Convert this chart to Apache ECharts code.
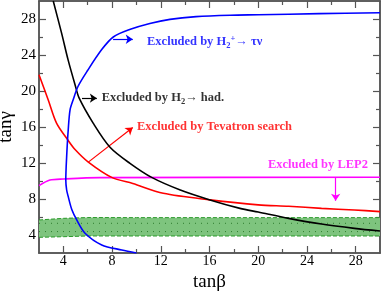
<!DOCTYPE html>
<html>
<head>
<meta charset="utf-8">
<script src="https://cdn.jsdelivr.net/npm/echarts@6/dist/echarts.min.js"></script>
<style>html,body{margin:0;padding:0;background:#fff}#c{width:382px;height:291px}</style>
</head>
<body>
<div id="c"></div>
<script>
// ---- data (tanβ, tanγ) ----
const xMajor = [4, 8, 12, 16, 20, 24, 28];
const xMinor = [6, 10, 14, 18, 22, 26];
const yMajor = [4, 8, 12, 16, 20, 24, 28];
const yMinor = [6, 10, 14, 18, 22, 26];

const blueCurve = [[30,28.7],[25,28.6],[20,28.47],[17.7,28.42],[14.9,28.26],[12.75,27.96],[11.1,27.5],[9.5,26.85],[8.1,26.0],[7.15,24.6],[6.0,22.3],[5.2,20.5],[4.8,19.0],[4.55,17.9],[4.4,15.7],[4.27,12.7],[4.2,10.1],[4.27,9.0],[4.4,8.26],[4.7,6.8],[5.1,5.67],[5.78,4.2],[7.15,2.9],[8.8,2.33],[10.0,2.0]];
const blackCurve = [[3.17,30],[3.86,26.4],[4.4,23.4],[4.96,20.7],[5.3,19.2],[6.46,16.4],[7.83,13.75],[9.47,11.96],[11.25,10.4],[13.6,9.0],[16.04,7.9],[18.5,6.96],[20,6.55],[22.5,5.85],[25.2,5.22],[27.9,4.74],[30,4.44]];
const redCurve = [[2,21.8],[2.76,19.0],[3.45,16.4],[4.4,14.5],[4.96,13.5],[6.05,12.1],[7.97,10.4],[9.7,9.72],[12.2,8.63],[16.04,7.9],[20,7.35],[22.5,7.2],[25.2,6.96],[27.9,6.78],[30,6.6]];
const magentaCurve = [[2,9.48],[2.9,10.1],[4.0,10.22],[7.0,10.37],[30,10.42]];

const bandX  = [2, 4, 6, 10, 20, 30];
const bandLo = [3.74, 3.81, 3.89, 3.89, 3.89, 3.89];
const bandHi = [5.67, 5.85, 5.94, 5.93, 5.93, 5.93];
const bandDots = [4.38, 5.3];

// annotations (data coordinates)
const labelTexts = [
  '{t|Excluded by H}{s|2}{p|+}{t|→ τν}',
  '{t|Excluded by H}{s|2}{t|→ had.}',
  '{t|Excluded by Tevatron search}',
  '{t|Excluded by LEP2}'
];
const labelPos = [[10.87,25.45],[7.15,19.2],[10.05,16.0],[20.8,11.78]];
const labelColors = ['#0000ff','#000000','#ff0000','#ff00ff'];
const arrows = [
  [[8.08,25.75],[9.7,25.75]],
  [[5.53,19.2],[6.75,19.2]],
  [[6.05,12.1],[9.7,15.95]],
  [[26.36,10.42],[26.36,7.8]]
];

const serif = 'Liberation Serif, Times New Roman, serif';
const axisColor = '#555';

function xAx(pos, vals, len, labels) {
  return {
    type: 'value', min: 2, max: 30, position: pos,
    axisLine: { show: true, onZero: false, lineStyle: { color: axisColor, width: 1.5 } },
    axisTick: { show: true, inside: true, length: len, customValues: vals, lineStyle: { color: axisColor, width: 1.2 } },
    axisLabel: labels ? { show: true, customValues: xMajor, fontFamily: serif, fontSize: 14, color: '#000', margin: 1 } : { show: false },
    splitLine: { show: false },
    name: labels ? 'tanβ' : '', nameLocation: 'middle', nameGap: 17,
    nameTextStyle: { fontFamily: serif, fontSize: 19, color: '#000' }
  };
}
function yAx(pos, vals, len, labels) {
  return {
    type: 'value', min: 2, max: 30, position: pos,
    axisLine: { show: true, onZero: false, lineStyle: { color: axisColor, width: 1.5 } },
    axisTick: { show: true, inside: true, length: len, customValues: vals, lineStyle: { color: axisColor, width: 1.2 } },
    axisLabel: labels ? { show: true, customValues: yMajor, fontFamily: serif, fontSize: 15, color: '#000', margin: 3 } : { show: false },
    splitLine: { show: false },
    name: labels ? 'tanγ' : '', nameLocation: 'middle', nameGap: 23, nameMoveOverlap: false,
    nameTextStyle: { fontFamily: serif, fontSize: 19, color: '#000' }
  };
}

function curve(data, color, arrow) {
  return {
    type: 'line', data: data, showSymbol: false, smooth: 0.3, clip: true,
    lineStyle: { color: color, width: 1.6 }, z: 5, silent: true,
    markLine: {
      silent: true, symbol: ['none', 'arrow'], symbolSize: 7,
      label: { show: false },
      lineStyle: { color: color, width: 1.2, type: 'solid' },
      data: [[{ coord: arrow[0] }, { coord: arrow[1] }]]
    }
  };
}

const chart = echarts.init(document.getElementById('c'), null, { renderer: 'canvas' });
const option = {
  animation: false,
  backgroundColor: '#fff',
  grid: { left: 39, right: 2, top: 1, bottom: 38, containLabel: false, outerBoundsMode: 'none' },
  xAxis: [xAx('bottom', xMajor, 7, true), xAx('bottom', xMinor, 4, false), xAx('top', xMajor, 7, false), xAx('top', xMinor, 4, false)],
  yAxis: [yAx('left', yMajor, 7, true), yAx('left', yMinor, 4, false), yAx('right', yMajor, 7, false), yAx('right', yMinor, 4, false)],
  series: [
    {
      type: 'custom', silent: true, z: 1,
      data: bandX.map((x, i) => [x, bandLo[i], bandHi[i]]),
      renderItem: function (params, api) {
        if (params.dataIndex !== 0) return;
        const pts = [];
        for (let i = 0; i < bandX.length; i++) pts.push(api.coord([bandX[i], bandHi[i]]));
        for (let i = bandX.length - 1; i >= 0; i--) pts.push(api.coord([bandX[i], bandLo[i]]));
        return { type: 'polygon', shape: { points: pts }, style: { fill: '#7ec47e' } };
      }
    },
    { type: 'line', data: bandX.map((x, i) => [x, bandLo[i]]), showSymbol: false, z: 2, silent: true, lineStyle: { color: '#2a9a2a', width: 1, type: [4, 2] } },
    { type: 'line', data: bandX.map((x, i) => [x, bandHi[i]]), showSymbol: false, z: 2, silent: true, lineStyle: { color: '#2a9a2a', width: 1, type: [4, 2] } },
    { type: 'line', data: [[2, bandDots[0]], [30, bandDots[0]]], showSymbol: false, z: 2, silent: true, lineStyle: { color: '#2f7d2f', width: 1, type: [1, 5] } },
    { type: 'line', data: [[2, bandDots[1]], [30, bandDots[1]]], showSymbol: false, z: 2, silent: true, lineStyle: { color: '#2f7d2f', width: 1, type: [1, 5] } },
    curve(magentaCurve, '#ff00ff', arrows[3]),
    curve(redCurve, '#ff0000', arrows[2]),
    curve(blackCurve, '#000000', arrows[1]),
    curve(blueCurve, '#0000ff', arrows[0]),
    {
      type: 'scatter', symbolSize: 0, silent: true, z: 10,
      data: labelPos.map((p, i) => ({
        value: p,
        label: {
          show: true, position: 'right', distance: 0,
          formatter: labelTexts[i],
          rich: {
            t: { fontFamily: serif, fontWeight: 'bold', fontSize: 12.5, color: labelColors[i], lineHeight: 16, verticalAlign: 'middle' },
            s: { fontFamily: serif, fontWeight: 'bold', fontSize: 8.5, color: labelColors[i], lineHeight: 9, verticalAlign: 'bottom' },
            p: { fontFamily: serif, fontWeight: 'bold', fontSize: 8.5, color: labelColors[i], lineHeight: 9, verticalAlign: 'top' }
          }
        }
      }))
    }
  ]
};
chart.setOption(option);
</script>
</body>
</html>
